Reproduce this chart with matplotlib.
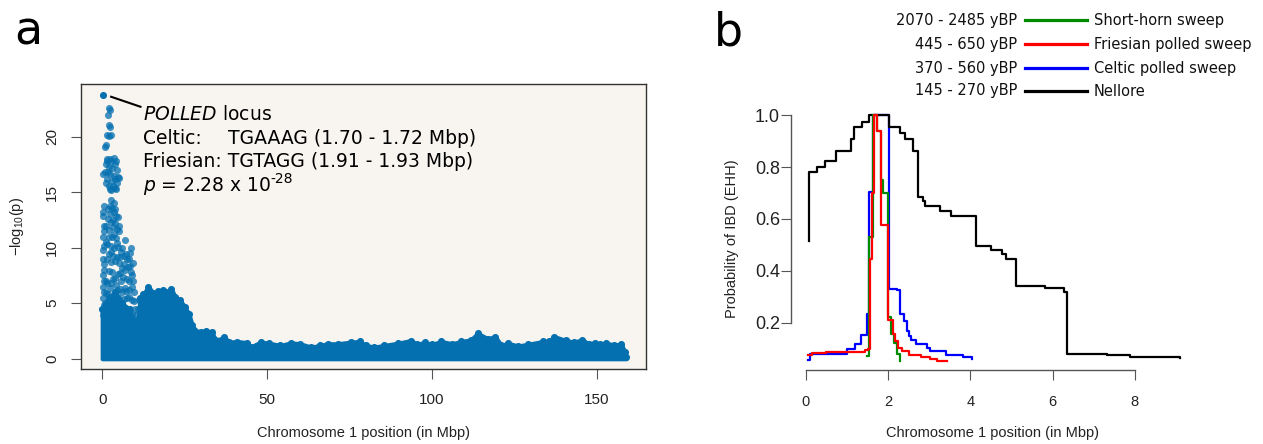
import matplotlib
matplotlib.use('Agg')
import matplotlib.pyplot as plt
from matplotlib.lines import Line2D

plt.rcParams['font.family'] = ['Liberation Sans', 'DejaVu Sans']
plt.rcParams['mathtext.fontset'] = 'custom'
plt.rcParams['mathtext.rm'] = 'Liberation Sans'

# ---- panel a: association scan on chromosome 1 ----
# outline of the solid mass of SNPs (Mbp, top -log10 p)
band_pos = [0.0, 2, 4, 6, 8, 9.5, 10.5, 11.5, 12.5, 14, 15.5, 17, 18.5, 20, 21,
            22, 23.5, 25, 26.3, 27.3, 27.8, 30, 31.5, 33.4, 34, 36, 37, 38.5,
            41, 44, 45, 48, 50.6, 54, 57.2, 60, 63.3, 66, 68.3, 71.4, 75.4, 78,
            80, 82.4, 85.5, 89.6, 93.6, 95.5, 97.7, 100, 102.8, 106, 108.8,
            111.8, 113.8, 116.9, 119.1, 121, 123, 126, 129, 133.6, 135.5, 137,
            140.5, 143, 145.5, 147.5, 149.3, 151, 152.8, 155, 157.4, 158.4, 158.8]
band_top = [4.5, 5.5, 6.0, 5.0, 4.5, 3.5, 2.6, 5.5, 5.8, 6.5, 5.9, 6.1, 6.2, 6.0,
            6.3, 5.6, 5.3, 4.7, 4.0, 3.0, 2.55, 2.45, 2.5, 2.4, 1.8, 1.7, 1.95,
            1.5, 1.55, 1.45, 1.05, 1.5, 1.4, 1.2, 1.43, 1.35, 1.05, 1.2, 1.35,
            1.35, 1.5, 1.56, 1.2, 1.05, 1.2, 1.4, 1.64, 1.3, 1.47, 1.3, 1.56,
            1.35, 1.56, 1.7, 2.3, 1.8, 2.0, 1.2, 1.4, 1.15, 1.3, 1.56, 1.6, 2.0,
            1.65, 1.5, 1.7, 1.35, 1.45, 1.3, 1.4, 1.25, 1.3, 0.6, 0.2]

# single SNPs standing above the mass near the POLLED locus
peak_pos = [2.0, 2.3, 1.8, 2.1, 2.5, 1.5, 2.2, 2.7, 1.1, 0.8,
            1.5, 2.5, 3.5, 4.2, 1.0, 2.0, 3.0, 4.5, 0.8, 4.8, 1.5, 3.0, 4.5,
            2.0, 3.8, 5.2, 0.3, 2.8, 1.3, 2.8, 3.8, 1.8, 2.5, 3.5, 4.0, 1.2,
            2.3, 3.3, 4.2,
            2.8, 3.5, 0.5, 4.0, 2.5, 4.8, 0.3, 3.2, 1.2, 4.0, 5.0, 0.5, 2.0,
            3.5, 5.2, 7.0, 1.0, 4.5, 6.0, 8.6, 8.3, 0.2, 2.8, 5.5, 7.5, 1.5,
            3.8, 6.5, 8.5, 0.5, 2.2, 4.8, 7.0, 9.0, 1.0, 3.2, 5.8, 8.0, 0.3,
            2.5, 4.5, 6.8, 9.0, 1.8, 7.5, 9.5, 0.5, 3.5, 6.0, 8.5, 0.2, 9.0,
            0.3, 0.4, 0.2, 0.6, 0.3, 0.5, 0.2, 0.6, 0.4, 0.2, 0.7, 0.3,
            1.8, 2.3, 3.0, 3.6, 4.3, 1.7, 2.6, 3.4, 4.6, 2.2, 3.0, 4.2, 1.5,
            2.6, 3.6, 4.9, 2.0, 3.3, 4.4, 5.8, 6.5, 7.2, 8.0, 2.7, 5.0, 6.0,
            7.8, 9.2, 3.0, 4.0, 5.4, 6.3, 7.6, 8.6, 9.3, 1.5, 2.8, 4.2, 5.3,
            6.0, 7.2, 8.2, 9.6, 1.2, 2.6, 3.8, 5.0, 6.6, 8.0, 9.0, 1.8, 3.0,
            4.4, 5.6, 7.0, 8.0, 9.8, 10.3, 10.8, 11.2]
peak_val = [22.6, 22.4, 22.0, 21.1, 20.9, 20.2, 20.1, 20.2, 19.3, 19.1,
            18.0, 18.0, 18.1, 17.8, 17.5, 17.3, 17.2, 17.0, 16.8, 16.4, 16.2,
            16.0, 15.8, 15.6, 15.4, 16.3, 16.6, 15.2, 17.8, 17.8, 17.5, 16.8,
            16.6, 16.5, 16.2, 15.8, 15.3, 15.6, 15.3,
            14.3, 14.0, 13.8, 13.5, 13.0, 12.8, 12.9, 12.5, 12.0, 12.2, 12.0,
            11.5, 11.0, 11.2, 11.5, 10.7, 10.5, 10.4, 10.0, 10.0, 9.5, 9.8,
            9.6, 9.2, 9.0, 9.0, 8.8, 8.5, 8.4, 8.0, 7.9, 7.6, 8.0, 7.5, 7.0,
            7.2, 7.0, 7.0, 6.5, 6.4, 6.2, 6.4, 6.5, 5.8, 5.5, 5.2, 4.8, 5.0,
            5.0, 4.5, 3.9, 4.0,
            13.2, 12.0, 11.0, 10.2, 9.0, 8.5, 7.5, 7.0, 6.0, 5.5, 5.0, 4.4,
            13.5, 13.8, 13.6, 13.2, 12.9, 12.6, 12.3, 11.9, 11.7, 11.6, 11.0,
            10.9, 10.3, 10.2, 10.0, 10.1, 9.4, 9.3, 9.2, 9.6, 9.3, 9.4, 9.0,
            8.7, 8.6, 8.2, 8.3, 8.6, 7.8, 7.3, 7.7, 7.4, 7.2, 7.8, 7.0, 6.8,
            6.8, 6.6, 6.3, 6.0, 6.1, 6.2, 6.0, 5.9, 5.6, 5.8, 5.5, 5.4, 5.6,
            5.3, 4.6, 4.4, 4.6, 4.3, 4.6, 4.2, 4.5, 3.9, 4.5, 5.3]
top_pos, top_val = 0.2, 23.8

# ---- panel b: EHH decay around the locus (step curves) ----
nel_x = [0.07, 0.08, 0.27, 0.46, 0.73, 1.09, 1.17, 1.37, 1.54, 2.03, 2.30,
         2.41, 2.61, 2.72, 2.84, 2.90, 3.26, 3.52, 4.15, 4.51, 4.76, 4.86,
         5.10, 5.81, 6.28, 6.36, 7.32, 7.88, 9.10]
nel_y = [0.515, 0.781, 0.801, 0.822, 0.863, 0.907, 0.954, 0.975, 1.0, 0.954,
         0.933, 0.907, 0.863, 0.685, 0.670, 0.649, 0.631, 0.613, 0.496, 0.479,
         0.464, 0.447, 0.340, 0.335, 0.320, 0.080, 0.074, 0.066, 0.063]
cel_x = [0.06, 0.10, 0.99, 1.19, 1.35, 1.49, 1.54, 1.64, 2.02, 2.22, 2.30,
         2.38, 2.45, 2.52, 2.57, 2.69, 2.94, 3.02, 3.42, 3.83, 4.03]
cel_y = [0.057, 0.077, 0.100, 0.119, 0.151, 0.235, 0.705, 1.0, 0.331, 0.325,
         0.235, 0.206, 0.168, 0.150, 0.134, 0.119, 0.103, 0.090, 0.074, 0.066,
         0.061]
fri_x = [0.06, 0.15, 0.50, 1.00, 1.44, 1.52, 1.57, 1.62, 1.67, 1.74, 1.82,
         1.84, 2.00, 2.11, 2.18, 2.23, 2.35, 2.50, 2.80, 3.02, 3.18, 3.44]
fri_y = [0.074, 0.083, 0.085, 0.088, 0.095, 0.100, 0.445, 0.700, 1.0, 0.940,
         0.650, 0.578, 0.209, 0.157, 0.130, 0.103, 0.090, 0.074, 0.068, 0.061,
         0.052, 0.052]
sho_x = [1.48, 1.53, 1.63, 1.72, 1.82, 1.88, 2.00, 2.07, 2.14, 2.22, 2.29]
sho_y = [0.070, 0.530, 1.0, 0.940, 0.750, 0.700, 0.222, 0.157, 0.120, 0.080,
         0.052]

leg_ages = ['2070 - 2485 yBP', '445 - 650 yBP', '370 - 560 yBP', '145 - 270 yBP']
leg_names = ['Short-horn sweep', 'Friesian polled sweep', 'Celtic polled sweep',
             'Nellore']
leg_cols = ['#008b00', 'red', 'blue', 'black']

W, H = 1263, 444
fig = plt.figure(figsize=(W / 100, H / 100), dpi=100)

def px(x0, y0, x1, y1):
    # pixel box -> figure fraction rect
    return [x0 / W, 1 - y1 / H, (x1 - x0) / W, (y1 - y0) / H]

dot = '#0570b0'

# panel a
ax = fig.add_axes(px(81.3, 84, 646, 369.3))
ax.set_facecolor('#f8f5f0')
ax.fill_between(band_pos, 0, band_top, color=dot, edgecolor=dot, lw=3)
ax.scatter(band_pos, band_top, s=26, color=dot, lw=0)
ax.scatter(peak_pos, peak_val, s=26, color=dot, alpha=0.75, lw=0)
ax.scatter([top_pos], [top_val], s=26, color=dot, lw=0)
ax.plot([2.7, 11.6], [23.6, 22.7], color='black', lw=1.5)

fs = 13.5
ax.text(12.3, 21.5, r'$\mathit{POLLED}$ locus', fontsize=fs, va='baseline',
        family='DejaVu Sans', math_fontfamily='dejavusans')
ax.text(12.3, 19.35, 'Celtic:', fontsize=fs, va='baseline', family='DejaVu Sans')
ax.text(38.0, 19.35, 'TGAAAG (1.70 - 1.72 Mbp)', fontsize=fs, va='baseline',
        family='DejaVu Sans')
ax.text(12.3, 17.23, 'Friesian: TGTAGG (1.91 - 1.93 Mbp)', fontsize=fs,
        va='baseline', family='DejaVu Sans')
pt = ax.text(12.3, 15.1, r'$\mathit{p}$ = 2.28 x 10', fontsize=fs,
             va='baseline', family='DejaVu Sans', math_fontfamily='dejavusans')
ax.annotate('-28', xy=(1.0, 0.62), xycoords=pt, fontsize=10, ha='left',
            va='baseline', family='DejaVu Sans')

ax.set_xlim(-6.34, 164.84)
ax.set_ylim(-0.95, 24.75)
ax.set_xticks([0, 50, 100, 150])
ax.set_yticks([0, 5, 10, 15, 20])
for s in ax.spines.values():
    s.set_color('#333333')
    s.set_linewidth(1.0)
ax.tick_params(direction='out', length=7, width=0.8, color='#555555',
               labelsize=11, labelcolor='#222222')
ax.tick_params(axis='x', pad=10)
ax.tick_params(axis='y', pad=9)
for t in ax.get_yticklabels():
    t.set_rotation(90)
    t.set_va('center')

fig.text(363.6 / W, 1 - 433 / H, 'Chromosome 1 position (in Mbp)', ha='center',
         va='center', fontsize=10.5, color='#222222')
fig.text(17 / W, 1 - 226.6 / H, r'$-$log$_{10}$(p)', rotation=90, ha='center',
         va='center', fontsize=10.5, color='#222222')
fig.text(14 / W, 1 - 44.6 / H, 'a', fontsize=33, family='DejaVu Sans',
         va='baseline')

# panel b
bx = fig.add_axes(px(791, 105.5, 1194.8, 369.5))
bx.step(cel_x, cel_y, where='post', color='blue', lw=1.6)
bx.step(nel_x, nel_y, where='post', color='black', lw=1.6)
bx.step(sho_x, sho_y, where='post', color='#008b00', lw=1.6)
bx.step(fri_x, fri_y, where='post', color='red', lw=1.6)
bx.set_xlim(-0.36, 9.46)
bx.set_ylim(0.019, 1.038)
bx.set_xticks([0, 2, 4, 6, 8])
bx.set_yticks([0.2, 0.4, 0.6, 0.8, 1.0])
bx.set_yticklabels(['%.1f' % v for v in [0.2, 0.4, 0.6, 0.8, 1.0]])
bx.spines['top'].set_visible(False)
bx.spines['right'].set_visible(False)
bx.spines['left'].set_bounds(0.2, 1.0)
bx.spines['bottom'].set_bounds(0, 8)
for s in ['left', 'bottom']:
    bx.spines[s].set_color('#555555')
    bx.spines[s].set_linewidth(1.0)
bx.tick_params(direction='out', length=7, width=0.8, color='#555555',
               labelsize=10.5, labelcolor='#222222')
bx.tick_params(axis='x', pad=11)
bx.tick_params(axis='y', pad=1, labelsize=13)

fig.text(993 / W, 1 - 433 / H, 'Chromosome 1 position (in Mbp)', ha='center',
         va='center', fontsize=10.5, color='#222222')
fig.text(732 / W, 1 - 239 / H, 'Probability of IBD (EHH)', rotation=90,
         ha='center', va='center', fontsize=10.5, color='#222222')
fig.text(714 / W, 1 - 45 / H, 'b', fontsize=33, family='DejaVu Sans',
         va='baseline')

# legend drawn by hand, as in the original
rows = [20, 44, 68, 91]
for yy, age, name, c in zip(rows, leg_ages, leg_names, leg_cols):
    fy = 1 - yy / H
    fig.text(1017 / W, fy, age, ha='right', va='center', fontsize=10.5,
             family='DejaVu Sans', color='#111111')
    fig.add_artist(Line2D([1025 / W, 1087 / W], [fy, fy], color=c, lw=2.3))
    fig.text(1094 / W, fy, name, ha='left', va='center', fontsize=10.5,
             family='DejaVu Sans', color='#111111')

fig.savefig('out.png', dpi=100)
